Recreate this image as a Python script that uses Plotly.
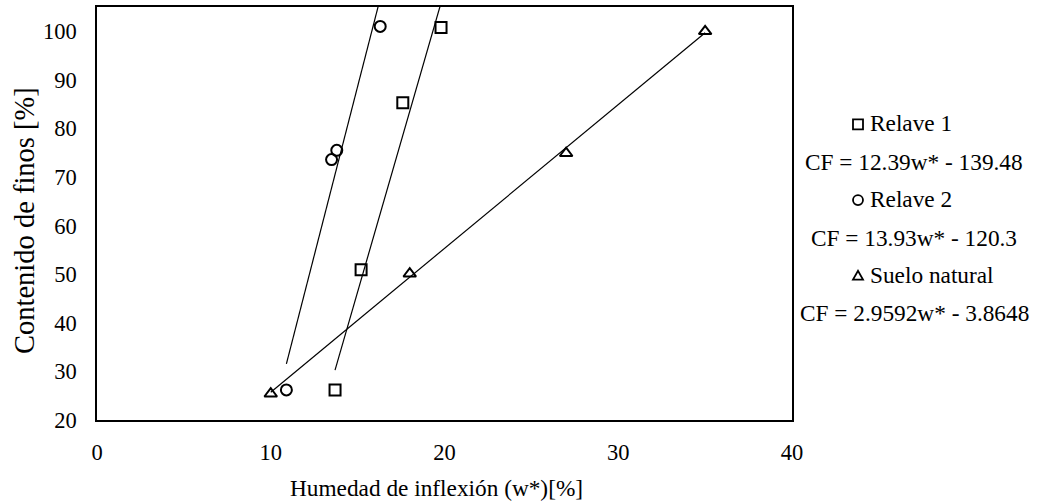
import plotly.graph_objects as go

# Measured samples: inflection moisture w* [%] vs fines content CF [%]
relave1_w = [13.7, 15.2, 17.6, 19.8]
relave1_cf = [26.2, 50.9, 85.3, 100.8]
relave2_w = [10.9, 13.5, 13.8, 16.3]
relave2_cf = [26.2, 73.6, 75.5, 101.0]
suelo_w = [10.0, 18.0, 27.0, 35.0]
suelo_cf = [25.4, 50.1, 74.9, 100.0]

# Linear fits CF = a*w* + b
fits = {
    "Relave 1": (12.39, -139.48),
    "Relave 2": (13.93, -120.3),
    "Suelo natural": (2.9592, -3.8648),
}
eq_labels = [
    "CF = 12.39w* - 139.48",
    "CF = 13.93w* - 120.3",
    "CF = 2.9592w* - 3.8648",
]

x_ticks = [0, 10, 20, 30, 40]
y_ticks = [20, 30, 40, 50, 60, 70, 80, 90, 100]

x_title = "Humedad de inflexión (w*)[%]"
y_title = "Contenido de finos [%]"

FONT = "Liberation Serif"
W, H = 1039, 503
ML, MR, MT, MB = 97, 247, 5, 83

series = [
    ("Relave 1", relave1_w, relave1_cf, "square-open"),
    ("Relave 2", relave2_w, relave2_cf, "circle-open"),
    ("Suelo natural", suelo_w, suelo_cf, "triangle-up-open"),
]

fig = go.Figure()
for name, xs, ys, sym in series:
    a, b = fits[name]
    x0, x1 = min(xs), max(xs)
    fig.add_trace(go.Scatter(
        x=[x0, x1], y=[a * x0 + b, a * x1 + b], mode="lines",
        line=dict(color="black", width=1.2), showlegend=False, hoverinfo="skip",
    ))
    fig.add_trace(go.Scatter(
        x=xs, y=ys, mode="markers", name=name, showlegend=False,
        marker=dict(symbol=sym, size=11, color="black", line=dict(width=2, color="black")),
    ))

pw = W - ML - MR
ph = H - MT - MB


def px_x(p):
    return (p - ML) / pw


def px_y(p):
    return (H - MB - p) / ph


annotations = []
shapes = []
row_y = [122, 161, 198, 237, 274, 312]
sym_x = 858
for i, (name, _, _, sym) in enumerate(series):
    y_name = row_y[2 * i]
    y_eq = row_y[2 * i + 1]
    annotations.append(dict(
        text=name, xref="paper", yref="paper", x=px_x(868), y=px_y(y_name),
        xanchor="left", yanchor="middle", showarrow=False,
        font=dict(family=FONT, size=23.3, color="black"),
    ))
    annotations.append(dict(
        text=eq_labels[i], xref="paper", yref="paper", x=px_x(914), y=px_y(y_eq),
        xanchor="center", yanchor="middle", showarrow=False,
        font=dict(family=FONT, size=23.3, color="black"),
    ))
    s = 5
    cx, cy = sym_x, y_name + 1
    if sym == "square-open":
        shapes.append(dict(type="rect", xref="paper", yref="paper",
                           x0=px_x(cx - s), x1=px_x(cx + s), y0=px_y(cy + s), y1=px_y(cy - s),
                           line=dict(color="black", width=1.8)))
    elif sym == "circle-open":
        shapes.append(dict(type="circle", xref="paper", yref="paper",
                           x0=px_x(cx - s), x1=px_x(cx + s), y0=px_y(cy + s), y1=px_y(cy - s),
                           line=dict(color="black", width=1.8)))
    else:
        path = "M {} {} L {} {} L {} {} Z".format(
            px_x(cx - s), px_y(cy + s - 1), px_x(cx + s), px_y(cy + s - 1), px_x(cx), px_y(cy - s))
        shapes.append(dict(type="path", xref="paper", yref="paper", path=path,
                           line=dict(color="black", width=1.8)))

# Axis titles
annotations.append(dict(
    text=x_title, xref="paper", yref="paper", x=px_x(436), y=px_y(488),
    xanchor="center", yanchor="middle", showarrow=False,
    font=dict(family=FONT, size=23.3, color="black"),
))
annotations.append(dict(
    text=y_title, xref="paper", yref="paper", x=px_x(25), y=px_y(220),
    xanchor="center", yanchor="middle", showarrow=False, textangle=-90,
    font=dict(family=FONT, size=28.5, color="black"),
))

fig.update_layout(
    width=W, height=H,
    margin=dict(l=ML, r=MR, t=MT, b=MB),
    paper_bgcolor="white", plot_bgcolor="white",
    font=dict(family=FONT, size=23, color="black"),
    annotations=annotations, shapes=shapes,
    showlegend=False,
)
fig.update_xaxes(
    range=[0, 40], tickvals=x_ticks, showgrid=False, zeroline=False,
    showline=True, linecolor="black", linewidth=1.6, mirror=True, ticks="",
    ticklabelstandoff=11, tickfont=dict(size=22.5),
)
fig.update_yaxes(
    range=[20, 105], tickvals=y_ticks, showgrid=False, zeroline=False,
    showline=True, linecolor="black", linewidth=1.6, mirror=True, ticks="",
    ticklabelstandoff=14, tickfont=dict(size=22.5),
)

fig.write_html("out.html")
